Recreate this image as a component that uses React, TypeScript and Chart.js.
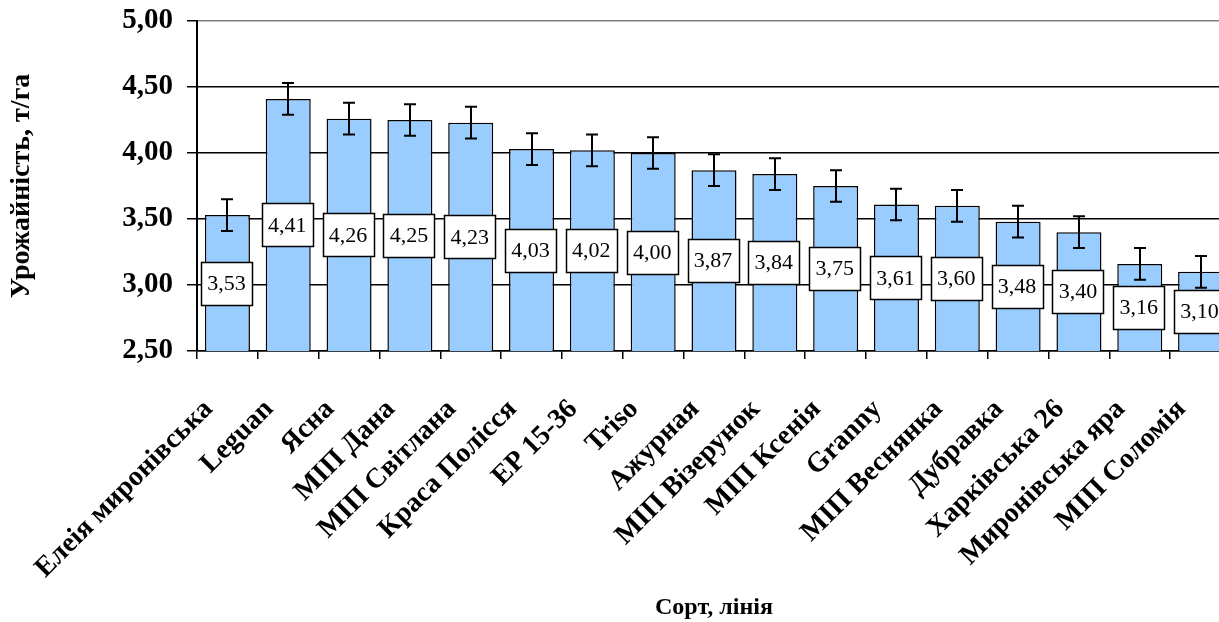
import React, { useEffect, useRef } from "react";
import { Chart, registerables } from "chart.js";

Chart.register(...registerables);

const categories = [
  "Елеія миронівська",
  "Leguan",
  "Ясна",
  "МІП Дана",
  "МІП Світлана",
  "Краса Полісся",
  "ЕР 15-36",
  "Triso",
  "Ажурная",
  "МІП Візерунок",
  "МІП Ксенія",
  "Granny",
  "МІП Веснянка",
  "Дубравка",
  "Харківська 26",
  "Миронівська яра",
  "МІП Соломія",
];

const yieldValues = [3.53, 4.41, 4.26, 4.25, 4.23, 4.03, 4.02, 4.0, 3.87, 3.84, 3.75, 3.61, 3.6, 3.48, 3.4, 3.16, 3.1];
const errorValues = [0.12, 0.12, 0.12, 0.12, 0.12, 0.12, 0.12, 0.12, 0.12, 0.12, 0.12, 0.12, 0.12, 0.12, 0.12, 0.12, 0.12];

const yMin = 2.5;
const yMax = 5.0;
const yStep = 0.5;

const yTitle = "Урожайність, т/га";
const xTitle = "Сорт, лінія";

const FONT = '"Liberation Serif", "Times New Roman", serif';
const fmt = (v: number) => v.toFixed(2).replace(".", ",");

const errorAndLabelPlugin = {
  id: "errorAndLabels",
  afterDatasetsDraw(chart: any) {
    const { ctx } = chart;
    const y = chart.scales.y;
    const meta = chart.getDatasetMeta(0);
    const basePx = y.getPixelForValue(yMin);
    ctx.save();
    ctx.strokeStyle = "#000";
    ctx.lineWidth = 2;
    meta.data.forEach((bar: any, i: number) => {
      const v = yieldValues[i];
      const e = errorValues[i];
      const top = y.getPixelForValue(v + e);
      const bot = y.getPixelForValue(v - e);
      const x = Math.round(bar.x);
      ctx.beginPath();
      ctx.moveTo(x, top);
      ctx.lineTo(x, bot);
      ctx.moveTo(x - 6, top);
      ctx.lineTo(x + 6, top);
      ctx.moveTo(x - 6, bot);
      ctx.lineTo(x + 6, bot);
      ctx.stroke();
    });
    ctx.font = `22px ${FONT}`;
    ctx.textAlign = "center";
    ctx.textBaseline = "middle";
    ctx.lineWidth = 1.5;
    meta.data.forEach((bar: any, i: number) => {
      const text = fmt(yieldValues[i]);
      const tw = ctx.measureText(text).width;
      const w = Math.round(tw + 12);
      const h = 43;
      const xc = bar.x - 1;
      const yc = (y.getPixelForValue(yieldValues[i]) + basePx) / 2;
      const left = Math.round(xc - w / 2) + 0.5;
      const topB = Math.round(yc - h / 2) + 0.5;
      ctx.fillStyle = "#fff";
      ctx.fillRect(left, topB, w, h);
      ctx.strokeStyle = "#000";
      ctx.strokeRect(left, topB, w, h);
      ctx.fillStyle = "#000";
      ctx.fillText(text, xc, yc + 1);
    });
    ctx.restore();
  },
};

export default function App() {
  const canvasRef = useRef<HTMLCanvasElement | null>(null);

  useEffect(() => {
    if (!canvasRef.current) return;
    const chart = new Chart(canvasRef.current, {
      type: "bar",
      data: {
        labels: categories,
        datasets: [
          {
            data: yieldValues,
            backgroundColor: "#99CCFF",
            borderColor: "#000000",
            borderWidth: 1.5,
            categoryPercentage: 1,
            barPercentage: 0.74,
          },
        ],
      },
      options: {
        animation: false,
        responsive: true,
        maintainAspectRatio: false,
        layout: { padding: { top: 21, right: 12, bottom: 0, left: 0 } },
        plugins: {
          legend: { display: false },
          tooltip: { enabled: false },
        },
        scales: {
          x: {
            type: "category",
            offset: true,
            afterFit: (scale: any) => {
              scale.height = 271;
              scale.paddingLeft = 0;
              scale.paddingRight = 0;
            },
            grid: {
              display: true,
              drawOnChartArea: false,
              drawTicks: true,
              tickLength: 8,
              offset: true,
              color: "#000",
              lineWidth: 1.5,
            },
            border: { display: true, color: "#000", width: 1.5 },
            ticks: {
              autoSkip: false,
              maxRotation: 45,
              minRotation: 45,
              labelOffset: -19,
              padding: 34,
              color: "#000",
              font: { family: FONT, size: 28, weight: "bold" },
            },
            title: {
              display: true,
              text: xTitle,
              color: "#000",
              font: { family: FONT, size: 24, weight: "bold" },
              padding: { top: 0, bottom: 0 },
            },
          },
          y: {
            min: yMin,
            max: yMax,
            afterFit: (scale: any) => {
              scale.width = 197;
              scale.paddingTop = 0;
              scale.paddingBottom = 0;
            },
            grid: {
              color: (c: any) => (c.tick && c.tick.value === yMax ? "#808080" : "#000"),
              tickColor: "#000",
              lineWidth: 1.5,
              drawTicks: true,
              tickLength: 10,
            },
            border: { display: true, color: "#000", width: 2 },
            ticks: {
              stepSize: yStep,
              padding: 14,
              color: "#000",
              font: { family: FONT, size: 29, weight: "bold" },
              callback: (v: any) => fmt(Number(v)),
            },
            title: {
              display: true,
              text: yTitle,
              color: "#000",
              font: { family: FONT, size: 28, weight: "bold" },
              padding: { top: 5, bottom: 0 },
            },
          },
        },
      },
      plugins: [errorAndLabelPlugin],
    });
    return () => chart.destroy();
  }, []);

  return (
    <div style={{ position: "absolute", left: 0, top: 0, width: 1219, height: 622, overflow: "hidden", background: "#fff" }}>
      <div style={{ position: "relative", width: 1243, height: 622 }}>
        <canvas ref={canvasRef} />
      </div>
    </div>
  );
}
